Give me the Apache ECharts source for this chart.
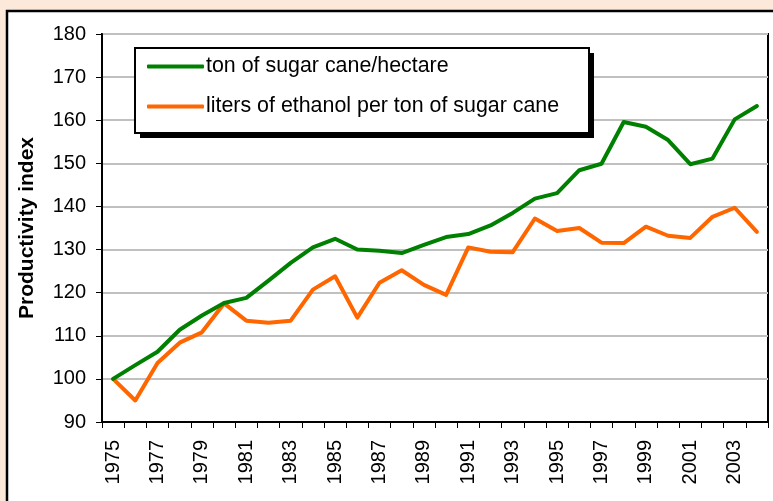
<!DOCTYPE html>
<html>
<head>
<meta charset="utf-8">
<script src="https://cdn.jsdelivr.net/npm/echarts@6/dist/echarts.min.js"></script>
<style>
html,body{margin:0;padding:0;background:#FDE9DA;}
#c{width:773px;height:501px;}
</style>
</head>
<body>
<div id="c"></div>
<script>
var years = ['1975','1976','1977','1978','1979','1980','1981','1982','1983','1984','1985','1986','1987','1988','1989','1990','1991','1992','1993','1994','1995','1996','1997','1998','1999','2000','2001','2002','2003','2004'];
var caneTonPerHectare = [100,103.2,106.3,111.4,114.7,117.6,118.8,122.8,126.9,130.5,132.5,130.0,129.7,129.2,131.1,132.9,133.6,135.6,138.5,141.8,143.1,148.4,149.9,159.6,158.5,155.4,149.8,151.1,160.2,163.3];
var ethanolPerTon = [100,95.0,103.7,108.4,110.8,117.5,113.5,113.0,113.5,120.7,123.8,114.2,122.3,125.2,121.8,119.5,130.5,129.5,129.4,137.2,134.3,135.0,131.6,131.5,135.3,133.2,132.7,137.6,139.7,134.1];
var seriesNames = ['ton of sugar cane/hectare','liters of ethanol per ton of sugar cane'];
var yAxisTitle = 'Productivity index';

var font = '"Liberation Sans", Arial, sans-serif';
var chart = echarts.init(document.getElementById('c'), null, {renderer:'canvas'});
chart.setOption({
  backgroundColor: '#FDE9DA',
  animation: false,
  textStyle: {fontFamily: font},
  graphic: [
    {type: 'rect', z: -10,
     shape: {x: 7, y: 11, width: 800, height: 600},
     style: {fill: '#ffffff', stroke: '#000000', lineWidth: 2.5}},
    {type: 'rect', z: 50,
     shape: {x: 140, y: 53, width: 454, height: 85},
     style: {fill: '#000000'}},
    {type: 'rect', z: 51,
     shape: {x: 135, y: 48, width: 454, height: 85},
     style: {fill: '#ffffff', stroke: '#000000', lineWidth: 2}}
  ],
  grid: {
    left: 102, right: 5, top: 34, bottom: 79,
    show: true, backgroundColor: '#ffffff', borderColor: '#000000', borderWidth: 2,
    containLabel: false
  },
  legend: {
    orient: 'vertical',
    left: 147, top: 56,
    padding: 0,
    z: 60,
    icon: 'roundRect',
    itemWidth: 57, itemHeight: 4, itemGap: 19,
    textStyle: {fontSize: 21.4, color: '#000', fontFamily: font, lineHeight: 21, padding: [0,0,0,-3]},
    data: seriesNames
  },
  xAxis: {
    type: 'category',
    data: years,
    boundaryGap: true,
    axisLine: {lineStyle: {color: '#000', width: 2}},
    axisTick: {show: true, interval: 0, length: 6, lineStyle: {color: '#000', width: 1}},
    axisLabel: {interval: 1, rotate: 90, fontSize: 20, color: '#000', margin: 18, fontFamily: font},
    splitLine: {show: false}
  },
  yAxis: {
    type: 'value',
    min: 90, max: 180, interval: 10,
    name: yAxisTitle,
    nameLocation: 'middle',
    nameRotate: 90,
    nameGap: 64,
    nameTextStyle: {fontSize: 21, fontWeight: 'bold', color: '#000', fontFamily: font},
    axisLine: {show: true, lineStyle: {color: '#000', width: 2}},
    axisTick: {show: true, length: 6, lineStyle: {color: '#000', width: 1}},
    axisLabel: {fontSize: 20, color: '#000', margin: 16, fontFamily: font},
    splitLine: {show: true, lineStyle: {color: '#c0c0c0', width: 2}}
  },
  series: [
    {name: seriesNames[0], type: 'line', data: caneTonPerHectare, symbol: 'none', lineStyle: {color: '#008000', width: 4, cap: 'round', join: 'round'}, itemStyle: {color: '#008000'}, z: 3},
    {name: seriesNames[1], type: 'line', data: ethanolPerTon, symbol: 'none', lineStyle: {color: '#FF6600', width: 4, cap: 'round', join: 'round'}, itemStyle: {color: '#FF6600'}, z: 2}
  ]
});
</script>
</body>
</html>
